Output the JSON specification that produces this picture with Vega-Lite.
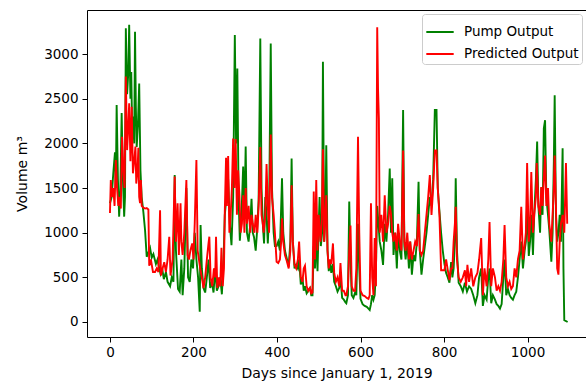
{
  "$schema": "https://vega.github.io/schema/vega-lite/v6.json",
  "width": 499,
  "height": 327,
  "autosize": "none",
  "padding": {"left": 87, "top": 10, "right": 0, "bottom": 48},
  "background": "white",
  "config": {
    "font": "DejaVu Sans",
    "view": {"stroke": "black", "strokeWidth": 1},
    "axis": {"grid": false, "domain": false, "tickColor": "black", "tickSize": 5, "labelColor": "black", "titleColor": "black", "labelFontSize": 13.5, "titleFontSize": 14, "titleFontWeight": "normal", "labelFont": "DejaVu Sans", "titleFont": "DejaVu Sans"},
    "legend": {"labelFont": "DejaVu Sans", "labelFontSize": 13.5, "labelColor": "black"}
  },
  "datasets": {
    "pump": [
      {"d":0,"v":1330},{"d":4,"v":1400},{"d":8,"v":1670},{"d":12,"v":1900},{"d":14,"v":1500},{"d":16,"v":2430},{"d":19,"v":1600},{"d":22,"v":1180},{"d":25,"v":1500},{"d":28,"v":2340},{"d":31,"v":1600},{"d":34,"v":1180},{"d":36,"v":1400},{"d":38,"v":3290},{"d":41,"v":2550},{"d":44,"v":2800},{"d":46,"v":3330},{"d":49,"v":2500},{"d":51,"v":2800},{"d":53,"v":2200},{"d":55,"v":2300},{"d":58,"v":2000},{"d":60,"v":3250},{"d":62,"v":2400},{"d":64,"v":1960},{"d":67,"v":2200},{"d":70,"v":2670},{"d":73,"v":1700},{"d":76,"v":1400},{"d":80,"v":1230},{"d":84,"v":1030},{"d":88,"v":730},{"d":92,"v":780},{"d":96,"v":830},{"d":100,"v":720},{"d":104,"v":760},{"d":110,"v":650},{"d":114,"v":700},{"d":118,"v":600},{"d":121,"v":540},{"d":125,"v":600},{"d":129,"v":480},{"d":134,"v":560},{"d":138,"v":450},{"d":144,"v":400},{"d":148,"v":500},{"d":152,"v":450},{"d":155,"v":1645},{"d":158,"v":800},{"d":163,"v":370},{"d":167,"v":340},{"d":171,"v":700},{"d":174,"v":300},{"d":178,"v":600},{"d":183,"v":1500},{"d":187,"v":500},{"d":191,"v":450},{"d":195,"v":700},{"d":199,"v":600},{"d":203,"v":1000},{"d":207,"v":700},{"d":211,"v":500},{"d":215,"v":115},{"d":217,"v":1085},{"d":220,"v":600},{"d":224,"v":380},{"d":228,"v":330},{"d":232,"v":500},{"d":236,"v":700},{"d":240,"v":380},{"d":244,"v":450},{"d":248,"v":330},{"d":252,"v":600},{"d":256,"v":350},{"d":260,"v":400},{"d":264,"v":500},{"d":268,"v":310},{"d":272,"v":700},{"d":275,"v":1200},{"d":279,"v":1400},{"d":283,"v":1600},{"d":287,"v":1100},{"d":291,"v":860},{"d":295,"v":1400},{"d":299,"v":3215},{"d":302,"v":2000},{"d":305,"v":2840},{"d":308,"v":1400},{"d":311,"v":910},{"d":315,"v":1200},{"d":319,"v":1740},{"d":322,"v":1200},{"d":325,"v":1965},{"d":328,"v":1000},{"d":332,"v":900},{"d":336,"v":1100},{"d":339,"v":1380},{"d":342,"v":1000},{"d":345,"v":950},{"d":349,"v":800},{"d":352,"v":1000},{"d":356,"v":1360},{"d":360,"v":3175},{"d":363,"v":1500},{"d":366,"v":1100},{"d":369,"v":880},{"d":372,"v":1400},{"d":375,"v":1200},{"d":378,"v":880},{"d":381,"v":1200},{"d":385,"v":3120},{"d":388,"v":1500},{"d":392,"v":1000},{"d":395,"v":850},{"d":399,"v":850},{"d":403,"v":900},{"d":407,"v":800},{"d":412,"v":1610},{"d":415,"v":1000},{"d":419,"v":800},{"d":424,"v":700},{"d":428,"v":620},{"d":432,"v":900},{"d":435,"v":1830},{"d":438,"v":900},{"d":442,"v":600},{"d":446,"v":640},{"d":450,"v":600},{"d":453,"v":700},{"d":457,"v":420},{"d":461,"v":500},{"d":464,"v":350},{"d":467,"v":400},{"d":471,"v":320},{"d":475,"v":350},{"d":479,"v":380},{"d":482,"v":300},{"d":485,"v":300},{"d":488,"v":850},{"d":491,"v":600},{"d":494,"v":1000},{"d":497,"v":570},{"d":500,"v":1100},{"d":502,"v":1400},{"d":505,"v":850},{"d":508,"v":1000},{"d":510,"v":2915},{"d":513,"v":900},{"d":516,"v":1200},{"d":518,"v":1980},{"d":521,"v":800},{"d":524,"v":570},{"d":527,"v":680},{"d":530,"v":550},{"d":534,"v":650},{"d":537,"v":450},{"d":541,"v":400},{"d":545,"v":340},{"d":549,"v":380},{"d":552,"v":500},{"d":556,"v":270},{"d":560,"v":250},{"d":564,"v":220},{"d":566,"v":210},{"d":570,"v":300},{"d":573,"v":1350},{"d":576,"v":700},{"d":579,"v":300},{"d":583,"v":270},{"d":587,"v":330},{"d":590,"v":300},{"d":594,"v":1100},{"d":597,"v":600},{"d":600,"v":260},{"d":605,"v":200},{"d":610,"v":180},{"d":615,"v":170},{"d":619,"v":150},{"d":622,"v":135},{"d":625,"v":200},{"d":628,"v":300},{"d":631,"v":250},{"d":634,"v":300},{"d":637,"v":600},{"d":640,"v":1300},{"d":643,"v":1100},{"d":646,"v":900},{"d":650,"v":800},{"d":654,"v":640},{"d":658,"v":1100},{"d":662,"v":900},{"d":666,"v":1200},{"d":670,"v":1720},{"d":673,"v":1000},{"d":676,"v":1610},{"d":679,"v":750},{"d":683,"v":1000},{"d":687,"v":600},{"d":690,"v":1000},{"d":694,"v":800},{"d":698,"v":700},{"d":702,"v":2375},{"d":705,"v":850},{"d":708,"v":700},{"d":712,"v":900},{"d":716,"v":600},{"d":719,"v":900},{"d":723,"v":530},{"d":727,"v":750},{"d":731,"v":680},{"d":735,"v":900},{"d":739,"v":1570},{"d":742,"v":800},{"d":746,"v":530},{"d":750,"v":700},{"d":754,"v":850},{"d":758,"v":1000},{"d":762,"v":1200},{"d":766,"v":1400},{"d":770,"v":1300},{"d":774,"v":1600},{"d":778,"v":2375},{"d":782,"v":2375},{"d":785,"v":1500},{"d":789,"v":1240},{"d":793,"v":1000},{"d":797,"v":800},{"d":801,"v":650},{"d":805,"v":550},{"d":809,"v":500},{"d":813,"v":440},{"d":817,"v":670},{"d":820,"v":500},{"d":823,"v":600},{"d":826,"v":900},{"d":828,"v":1610},{"d":831,"v":800},{"d":835,"v":440},{"d":840,"v":400},{"d":845,"v":340},{"d":850,"v":440},{"d":855,"v":340},{"d":860,"v":400},{"d":865,"v":370},{"d":870,"v":300},{"d":875,"v":210},{"d":880,"v":300},{"d":884,"v":500},{"d":889,"v":600},{"d":893,"v":180},{"d":897,"v":300},{"d":902,"v":250},{"d":906,"v":500},{"d":909,"v":600},{"d":913,"v":210},{"d":917,"v":300},{"d":922,"v":250},{"d":926,"v":200},{"d":930,"v":180},{"d":934,"v":150},{"d":938,"v":200},{"d":942,"v":500},{"d":945,"v":700},{"d":949,"v":300},{"d":953,"v":370},{"d":957,"v":300},{"d":961,"v":270},{"d":965,"v":250},{"d":969,"v":300},{"d":973,"v":340},{"d":977,"v":500},{"d":981,"v":700},{"d":985,"v":900},{"d":989,"v":600},{"d":993,"v":800},{"d":996,"v":900},{"d":999,"v":1300},{"d":1003,"v":740},{"d":1006,"v":900},{"d":1009,"v":1200},{"d":1013,"v":750},{"d":1016,"v":1200},{"d":1020,"v":1600},{"d":1023,"v":2020},{"d":1026,"v":1300},{"d":1030,"v":1000},{"d":1033,"v":1510},{"d":1036,"v":1200},{"d":1039,"v":2170},{"d":1042,"v":2260},{"d":1045,"v":1400},{"d":1049,"v":1200},{"d":1052,"v":1035},{"d":1057,"v":675},{"d":1060,"v":1000},{"d":1063,"v":1800},{"d":1065,"v":2540},{"d":1068,"v":1200},{"d":1071,"v":900},{"d":1074,"v":1000},{"d":1077,"v":1200},{"d":1080,"v":900},{"d":1084,"v":1945},{"d":1086,"v":600},{"d":1088,"v":20},{"d":1096,"v":0}
    ],
    "pred": [
      {"d":0,"v":1220},{"d":2,"v":1590},{"d":5,"v":1400},{"d":8,"v":1500},{"d":11,"v":1300},{"d":14,"v":1815},{"d":17,"v":1500},{"d":20,"v":1300},{"d":23,"v":1400},{"d":26,"v":1270},{"d":29,"v":2075},{"d":32,"v":1700},{"d":35,"v":1500},{"d":38,"v":2750},{"d":41,"v":1925},{"d":44,"v":2200},{"d":46,"v":2450},{"d":49,"v":1800},{"d":52,"v":2410},{"d":55,"v":1665},{"d":58,"v":1800},{"d":61,"v":1965},{"d":63,"v":1550},{"d":66,"v":1700},{"d":68,"v":1950},{"d":70,"v":1400},{"d":72,"v":1330},{"d":74,"v":1590},{"d":76,"v":1300},{"d":80,"v":1280},{"d":84,"v":1270},{"d":88,"v":1275},{"d":92,"v":1260},{"d":94,"v":630},{"d":98,"v":700},{"d":103,"v":560},{"d":108,"v":560},{"d":112,"v":600},{"d":116,"v":560},{"d":120,"v":1250},{"d":122,"v":520},{"d":126,"v":600},{"d":130,"v":670},{"d":134,"v":560},{"d":138,"v":700},{"d":142,"v":955},{"d":145,"v":520},{"d":150,"v":700},{"d":155,"v":1630},{"d":158,"v":900},{"d":162,"v":1330},{"d":165,"v":750},{"d":169,"v":1330},{"d":171,"v":900},{"d":174,"v":750},{"d":178,"v":1000},{"d":183,"v":1590},{"d":186,"v":750},{"d":189,"v":700},{"d":193,"v":810},{"d":197,"v":880},{"d":200,"v":700},{"d":203,"v":1105},{"d":207,"v":1815},{"d":210,"v":800},{"d":213,"v":700},{"d":216,"v":600},{"d":220,"v":500},{"d":224,"v":380},{"d":228,"v":500},{"d":232,"v":700},{"d":236,"v":880},{"d":238,"v":955},{"d":241,"v":500},{"d":245,"v":400},{"d":249,"v":600},{"d":252,"v":500},{"d":254,"v":955},{"d":257,"v":380},{"d":261,"v":500},{"d":264,"v":400},{"d":267,"v":830},{"d":270,"v":400},{"d":273,"v":600},{"d":275,"v":1235},{"d":278,"v":1840},{"d":280,"v":1300},{"d":283,"v":1860},{"d":286,"v":1000},{"d":289,"v":1200},{"d":292,"v":1500},{"d":295,"v":2055},{"d":298,"v":1500},{"d":301,"v":2050},{"d":304,"v":1200},{"d":307,"v":1700},{"d":310,"v":1420},{"d":313,"v":1000},{"d":316,"v":1100},{"d":319,"v":1420},{"d":322,"v":1000},{"d":325,"v":1500},{"d":328,"v":1100},{"d":332,"v":1300},{"d":336,"v":1000},{"d":339,"v":1200},{"d":342,"v":1100},{"d":346,"v":1000},{"d":349,"v":1200},{"d":353,"v":1000},{"d":356,"v":1300},{"d":360,"v":1960},{"d":363,"v":1200},{"d":366,"v":1100},{"d":368,"v":1000},{"d":372,"v":1200},{"d":375,"v":1770},{"d":378,"v":1300},{"d":381,"v":1000},{"d":385,"v":2100},{"d":388,"v":1400},{"d":392,"v":1200},{"d":395,"v":1000},{"d":399,"v":675},{"d":403,"v":660},{"d":407,"v":700},{"d":410,"v":900},{"d":412,"v":1160},{"d":415,"v":900},{"d":419,"v":750},{"d":424,"v":675},{"d":428,"v":600},{"d":432,"v":800},{"d":435,"v":1530},{"d":438,"v":900},{"d":442,"v":640},{"d":446,"v":600},{"d":450,"v":700},{"d":453,"v":900},{"d":457,"v":500},{"d":461,"v":450},{"d":464,"v":600},{"d":467,"v":630},{"d":471,"v":400},{"d":475,"v":350},{"d":479,"v":380},{"d":482,"v":320},{"d":485,"v":330},{"d":488,"v":1460},{"d":491,"v":700},{"d":494,"v":1590},{"d":497,"v":800},{"d":500,"v":1200},{"d":504,"v":900},{"d":507,"v":1100},{"d":510,"v":1935},{"d":513,"v":900},{"d":516,"v":1200},{"d":518,"v":1420},{"d":521,"v":800},{"d":524,"v":600},{"d":527,"v":700},{"d":530,"v":650},{"d":534,"v":880},{"d":537,"v":550},{"d":541,"v":450},{"d":545,"v":500},{"d":549,"v":400},{"d":552,"v":660},{"d":556,"v":350},{"d":560,"v":350},{"d":564,"v":300},{"d":566,"v":300},{"d":570,"v":400},{"d":573,"v":800},{"d":576,"v":1080},{"d":579,"v":400},{"d":583,"v":350},{"d":587,"v":350},{"d":590,"v":600},{"d":594,"v":2075},{"d":597,"v":1000},{"d":600,"v":350},{"d":605,"v":300},{"d":610,"v":290},{"d":615,"v":270},{"d":619,"v":260},{"d":622,"v":300},{"d":625,"v":1330},{"d":628,"v":500},{"d":631,"v":300},{"d":634,"v":940},{"d":637,"v":400},{"d":640,"v":3300},{"d":642,"v":2600},{"d":644,"v":2280},{"d":646,"v":1000},{"d":650,"v":1200},{"d":654,"v":900},{"d":658,"v":1420},{"d":662,"v":1000},{"d":666,"v":1100},{"d":670,"v":1300},{"d":673,"v":1210},{"d":676,"v":1000},{"d":679,"v":900},{"d":683,"v":1000},{"d":687,"v":800},{"d":690,"v":1100},{"d":694,"v":900},{"d":698,"v":800},{"d":702,"v":1920},{"d":705,"v":900},{"d":708,"v":800},{"d":712,"v":1000},{"d":716,"v":700},{"d":719,"v":900},{"d":723,"v":700},{"d":727,"v":800},{"d":731,"v":900},{"d":735,"v":850},{"d":739,"v":1210},{"d":742,"v":800},{"d":746,"v":750},{"d":750,"v":800},{"d":754,"v":1000},{"d":758,"v":1200},{"d":762,"v":1400},{"d":766,"v":1645},{"d":770,"v":1200},{"d":774,"v":1500},{"d":778,"v":1920},{"d":782,"v":1920},{"d":785,"v":1500},{"d":789,"v":1200},{"d":793,"v":580},{"d":797,"v":580},{"d":801,"v":580},{"d":805,"v":700},{"d":809,"v":580},{"d":813,"v":470},{"d":817,"v":600},{"d":820,"v":600},{"d":823,"v":900},{"d":826,"v":1100},{"d":828,"v":1290},{"d":831,"v":700},{"d":835,"v":500},{"d":840,"v":450},{"d":845,"v":500},{"d":850,"v":580},{"d":853,"v":400},{"d":856,"v":640},{"d":860,"v":450},{"d":865,"v":600},{"d":870,"v":400},{"d":875,"v":500},{"d":880,"v":550},{"d":884,"v":700},{"d":889,"v":940},{"d":893,"v":300},{"d":897,"v":600},{"d":902,"v":400},{"d":906,"v":700},{"d":909,"v":1120},{"d":913,"v":400},{"d":917,"v":600},{"d":922,"v":500},{"d":926,"v":350},{"d":930,"v":400},{"d":934,"v":350},{"d":938,"v":450},{"d":942,"v":700},{"d":945,"v":1085},{"d":949,"v":500},{"d":953,"v":400},{"d":957,"v":450},{"d":961,"v":370},{"d":965,"v":400},{"d":969,"v":600},{"d":973,"v":500},{"d":977,"v":700},{"d":981,"v":800},{"d":985,"v":1290},{"d":989,"v":700},{"d":993,"v":850},{"d":996,"v":1000},{"d":999,"v":1780},{"d":1003,"v":900},{"d":1006,"v":1100},{"d":1009,"v":1680},{"d":1013,"v":1000},{"d":1016,"v":1200},{"d":1020,"v":1400},{"d":1022,"v":1780},{"d":1026,"v":1300},{"d":1030,"v":1200},{"d":1033,"v":1510},{"d":1036,"v":1300},{"d":1039,"v":1600},{"d":1042,"v":1865},{"d":1045,"v":1300},{"d":1049,"v":1500},{"d":1052,"v":1100},{"d":1057,"v":900},{"d":1060,"v":1200},{"d":1063,"v":1500},{"d":1065,"v":1865},{"d":1068,"v":1300},{"d":1071,"v":600},{"d":1074,"v":530},{"d":1077,"v":900},{"d":1080,"v":1100},{"d":1084,"v":1200},{"d":1088,"v":1000},{"d":1092,"v":1780},{"d":1095,"v":1100}
    ]
  },
  "layer": [
    {
      "data": {"name": "pump"},
      "mark": {"type": "line", "strokeWidth": 1.9, "clip": true},
      "encoding": {
        "x": {"field": "d", "type": "quantitative", "title": "Days since January 1, 2019",
              "scale": {"domain": [-55, 1140], "nice": false, "zero": false},
              "axis": {"values": [0, 200, 400, 600, 800, 1000], "format": "d", "labelPadding": 3, "titlePadding": 8}},
        "y": {"field": "v", "type": "quantitative", "title": "Volume m³",
              "scale": {"domain": [-168, 3494], "nice": false, "zero": false},
              "axis": {"values": [0, 500, 1000, 1500, 2000, 2500, 3000], "format": "d", "labelPadding": 4, "titlePadding": 14}},
        "color": {"datum": "Pump Output", "type": "nominal",
                  "scale": {"domain": ["Pump Output", "Predicted Output"], "range": ["#008000", "#ff0000"]},
                  "legend": {"title": null, "orient": "top-right", "offset": 4, "symbolType": "stroke", "symbolStrokeWidth": 2, "symbolSize": 750, "fillColor": "white", "strokeColor": "#cccccc", "cornerRadius": 3, "padding": 3, "rowPadding": -5, "labelOffset": 9}}
      }
    },
    {
      "data": {"name": "pred"},
      "mark": {"type": "line", "strokeWidth": 1.9, "clip": true},
      "encoding": {
        "x": {"field": "d", "type": "quantitative"},
        "y": {"field": "v", "type": "quantitative"},
        "color": {"datum": "Predicted Output", "type": "nominal"}
      }
    }
  ]
}
